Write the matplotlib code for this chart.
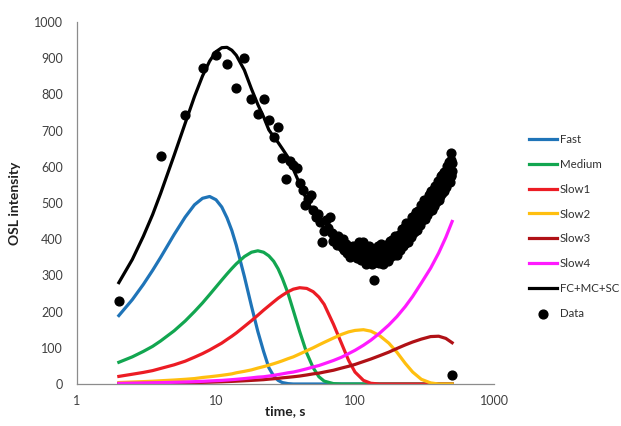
import matplotlib
matplotlib.use("Agg")
import matplotlib.pyplot as plt
import numpy as np

plt.rcParams['font.family'] = ['Lato', 'DejaVu Sans']

# fitted components (time grid shared by all curves)
t_fit = [2, 2.5, 3, 3.5, 4, 5, 6, 7, 8, 9, 10, 11, 12, 13, 14, 16, 18, 20, 22, 24, 26, 28, 30,
         33, 36, 40, 45, 50, 55, 60, 70, 80, 90, 100, 115, 130, 150, 175, 200, 230, 260, 300,
         350, 400, 450, 500]
fast = [189, 233, 275, 314, 350, 413, 461, 495, 513, 518, 509, 489, 459, 424, 383, 297, 215, 145,
        90, 45, 22, 10, 4, 1, 0, 0, 0, 0, 0, 0, 0, 0, 0, 0, 0, 0, 0, 0, 0, 0, 0, 0, 0, 0, 0, 0]
medium = [60, 75, 90, 104, 119, 147, 174, 200, 224, 247, 268, 287, 304, 319, 332, 352, 364, 368,
          364, 354, 339, 318, 292, 250, 203, 145, 85, 45, 20, 8, 1, 0, 0, 0, 0, 0, 0, 0, 0, 0,
          0, 0, 0, 0, 0, 0]
slow1 = [21, 27, 32, 37, 43, 53, 63, 74, 84, 94, 104, 113, 123, 132, 141, 159, 175, 190, 204, 216,
         227, 237, 245, 255, 262, 266, 264, 255, 240, 220, 165, 112, 65, 33, 10, 2, 0, 0, 0, 0,
         0, 0, 0, 0, 0, 0]
slow2 = [4, 5.5, 6.6, 7.7, 9, 11, 13, 15, 18, 20, 22, 24, 26, 28, 31, 35, 39, 44, 48, 52, 56, 60,
         64, 70, 75, 83, 92, 100, 108, 115, 127, 137, 144, 148, 150, 146, 134, 113, 88, 57, 33,
         13, 3, 0, 0, 0]
slow3 = [1, 1.4, 1.7, 2, 2.2, 2.8, 3.3, 3.9, 4.5, 5, 5.6, 6.1, 6.7, 7.2, 7.8, 8.9, 10, 11, 12,
         13.4, 14.5, 15.6, 17, 18.5, 20, 22, 25, 28, 30, 33, 38, 44, 49, 54, 62, 69, 78, 88, 98,
         108, 116, 124, 131, 132, 126, 114]
slow4 = [1.9, 2.3, 2.8, 3.3, 3.7, 4.7, 5.6, 6.5, 7.4, 8.4, 9.3, 10, 11, 12, 13, 15, 17, 19, 20,
         22, 24, 26, 28, 31, 33, 37, 42, 47, 51, 56, 65, 74, 84, 93, 107, 121, 140, 163, 186, 214,
         242, 279, 320, 362, 405, 449]
total = [280, 344, 408, 468, 527, 632, 720, 794, 851, 892, 918, 929, 930, 922, 908, 867, 815, 772,
         738, 702, 683, 667, 650, 626, 593, 553, 508, 475, 449, 430, 400, 385, 370, 360, 352, 350,
         352, 362, 378, 398, 420, 450, 490, 528, 562, 590]

# measured data, one reading every 2 s
t_data = list(range(2, 501, 2))
osl_data = [
    230, 630, 742, 872, 908, 885, 819, 900, 788, 746, 788, 728, 681, 711, 624, 567, 615, 605, 597, 556,
    536, 495, 512, 521, 480, 461, 470, 447, 391, 424, 452, 430, 461, 418, 396, 405, 384, 410, 392, 378,
    401, 371, 386, 362, 375, 350, 368, 381, 357, 366,
    380, 349, 391, 360, 342, 371, 392, 349, 363, 331, 377, 350, 380, 342, 362, 332, 370, 353, 288, 336,
    367, 337, 380, 350, 333, 364, 387, 346, 362, 331, 378, 353, 384, 348, 369, 340, 380, 364, 396, 350,
    383, 355, 399, 371, 355, 387, 410, 370, 386, 357,
    405, 380, 412, 377, 399, 370, 411, 396, 428, 382, 416, 387, 432, 404, 389, 420, 444, 404, 420, 391,
    437, 412, 444, 409, 434, 405, 443, 429, 460, 417, 448, 423, 465, 436, 424, 455, 476, 439, 453, 426,
    472, 447, 479, 446, 466, 440, 478, 465, 495, 449,
    482, 456, 498, 469, 455, 487, 508, 468, 484, 456, 502, 477, 509, 472, 496, 467, 505, 490, 522, 477,
    509, 482, 524, 495, 481, 513, 534, 494, 510, 482, 528, 503, 535, 499, 522, 493, 531, 516, 548, 503,
    535, 508, 550, 522, 507, 539, 561, 520, 536, 508,
    552, 528, 560, 525, 547, 519, 558, 543, 575, 528, 562, 533, 577, 548, 533, 564, 587, 547, 563, 533,
    581, 556, 587, 551, 573, 544, 584, 569, 601, 554, 588, 559, 603, 574, 559, 590, 613, 573, 589, 559,
    607, 582, 613, 577, 639, 575, 620, 588, 611, 25,
]

x_ticks = [1, 10, 100, 1000]
x_tick_labels = ['1', '10', '100', '1000']
y_ticks = [0, 100, 200, 300, 400, 500, 600, 700, 800, 900, 1000]

fig = plt.figure(figsize=(6.21, 4.26), dpi=100)
ax = fig.add_axes([77 / 621, 42 / 426, 417 / 621, 362 / 426])

lw = 2.3
ax.plot(t_fit, fast, color='#1f74b8', lw=lw, label='Fast')
ax.plot(t_fit, medium, color='#12a650', lw=lw, label='Medium')
ax.plot(t_fit, slow1, color='#ec1c24', lw=lw, label='Slow1')
ax.plot(t_fit, slow2, color='#ffbf0f', lw=lw, label='Slow2')
ax.plot(t_fit, slow3, color='#b01116', lw=lw, label='Slow3')
ax.plot(t_fit, slow4, color='#ff1aff', lw=lw, label='Slow4')
ax.plot(t_fit, total, color='black', lw=lw, label='FC+MC+SC')
ax.scatter(t_data, osl_data, s=40, color='black', zorder=5, label='Data')

ax.set_xscale('log')
ax.set_xlim(1, 1000)
ax.set_ylim(0, 1000)
ax.set_xticks(x_ticks)
ax.set_xticklabels(x_tick_labels)
ax.minorticks_off()
ax.set_yticks(y_ticks)
ax.tick_params(length=0, labelsize=9, labelcolor='#404040')
ax.tick_params(axis='y', pad=10)
ax.tick_params(axis='x', pad=8)

for side in ['top', 'right']:
    ax.spines[side].set_visible(False)
for side in ['left', 'bottom']:
    ax.spines[side].set_color('#8c8c8c')
    ax.spines[side].set_linewidth(0.9)

ax.set_xlabel('time, s', fontsize=10, fontweight='bold', color='#202020')
ax.set_ylabel('OSL intensity', fontsize=10, fontweight='bold', color='#202020')
ax.xaxis.set_label_coords(0.5, -0.058)
ax.yaxis.set_label_coords(-0.134, 0.5)

ax.legend(loc='upper left', bbox_to_anchor=(529 / 621, 1 - 134 / 426),
          bbox_transform=fig.transFigure, frameon=False, fontsize=8.3,
          handlelength=2.45, handletextpad=0.2, labelspacing=1.2,
          borderpad=0, borderaxespad=0, scatterpoints=1, labelcolor='#303030')

fig.savefig('out.png', dpi=100)
